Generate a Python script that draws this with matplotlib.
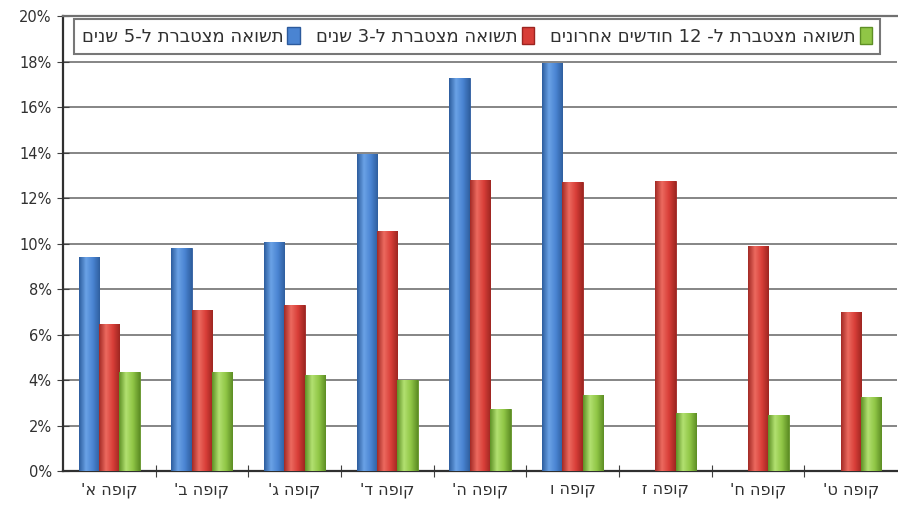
import re
import numpy as np
import matplotlib
matplotlib.use('Agg')
import matplotlib.pyplot as plt
from matplotlib.patches import Patch
from matplotlib.colors import LinearSegmentedColormap
from matplotlib.ticker import FuncFormatter

# funds, left to right
funds = ["קופה א'", "קופה ב'", "קופה ג'", "קופה ד'", "קופה ה'",
         "קופה ו", "קופה ז", "קופה ח'", "קופה ט'"]

# cumulative return, %
ret_5y = [9.4, 9.8, 10.07, 13.95, 17.3, 17.93, np.nan, np.nan, np.nan]
ret_3y = [6.47, 7.1, 7.3, 10.55, 12.8, 12.7, 12.75, 9.88, 6.98]
ret_12m = [4.38, 4.34, 4.23, 4.0, 2.75, 3.35, 2.55, 2.45, 3.28]

series_names = ["תשואה מצטברת ל-5 שנים",
                "תשואה מצטברת ל-3 שנים",
                "תשואה מצטברת ל- 12 חודשים אחרונים"]


def rtl(s):
    # matplotlib has no bidi, so flip hebrew to visual order and keep numbers
    out = s[::-1]
    return re.sub(r'\d+', lambda m: m.group(0)[::-1], out)


colors = ['#4a84d2', '#d83e38', '#90c646']
# dark edge -> light -> mid -> dark edge, gives the excel cylinder look
shades = [['#2d5d9e', '#6aa2e6', '#4a84d2', '#2f5f9f'],
          ['#a32a25', '#ec6a5f', '#d83e38', '#9e2621'],
          ['#5f9126', '#b2e070', '#90c646', '#5d8e24']]
edges = ['#2c5a9c', '#9c2420', '#5e8f25']

plt.rcParams['font.family'] = ['DejaVu Sans']

fig = plt.figure(figsize=(8.98, 5.05), dpi=100)
ax = fig.add_axes([0.070, 0.067, 0.929, 0.901])

x = np.arange(len(funds))
w = 0.22
grad = np.linspace(0, 1, 64).reshape(1, -1)
for i, vals in enumerate([ret_5y, ret_3y, ret_12m]):
    bars = ax.bar(x + (i - 1) * w, vals, width=w, color=colors[i],
                  edgecolor=edges[i], linewidth=0.6, zorder=3)
    cmap = LinearSegmentedColormap.from_list('s%d' % i, shades[i])
    for b in bars:
        h = b.get_height()
        if not np.isfinite(h):
            continue
        x0 = b.get_x()
        im = ax.imshow(grad, cmap=cmap, aspect='auto', zorder=3.5,
                       extent=[x0, x0 + b.get_width(), 0, h])
        im.set_clip_path(b)

ax.set_xlim(-0.5, len(funds) - 0.5)
ax.set_ylim(0, 20)
ax.set_yticks(np.arange(0, 21, 2))
ax.yaxis.set_major_formatter(FuncFormatter(lambda v, p: '%d%%' % v))
ax.set_xticks(np.arange(len(funds) - 1) + 0.5)
ax.set_xticklabels([])
ax.set_xticks(x, minor=True)
ax.set_xticklabels([rtl(f) for f in funds], minor=True)
ax.tick_params(axis='x', which='minor', length=0, pad=8, labelsize=11.5,
               labelcolor='#303030')
ax.tick_params(axis='x', which='major', direction='inout', length=8,
               color='#404040')
ax.tick_params(axis='y', direction='inout', length=8, color='#404040',
               labelsize=10.5, labelcolor='#303030', pad=4)

ax.grid(axis='y', color='#858585', linewidth=1.4, zorder=0)
ax.set_axisbelow(True)
ax.spines['right'].set_visible(False)
ax.spines['top'].set_color('#707070')
ax.spines['top'].set_linewidth(1.6)
for s in ['left', 'bottom']:
    ax.spines[s].set_color('#303030')
    ax.spines[s].set_linewidth(1.6)

handles = [Patch(facecolor=colors[i], edgecolor=edges[i]) for i in range(3)]
leg = ax.legend(handles, [rtl(n) for n in series_names], ncol=3,
                loc='upper right', bbox_to_anchor=(0.98, 0.993),
                borderaxespad=0, markerfirst=False, fontsize=13,
                frameon=True, fancybox=False, handlelength=0.7,
                handleheight=1.0, handletextpad=0.2, columnspacing=0.9,
                borderpad=0.45)
leg.get_frame().set_edgecolor('#555555')
leg.get_frame().set_linewidth(1.5)
leg.set_zorder(10)
for t in leg.get_texts():
    t.set_color('#303030')

fig.savefig('out.png', dpi=100)
